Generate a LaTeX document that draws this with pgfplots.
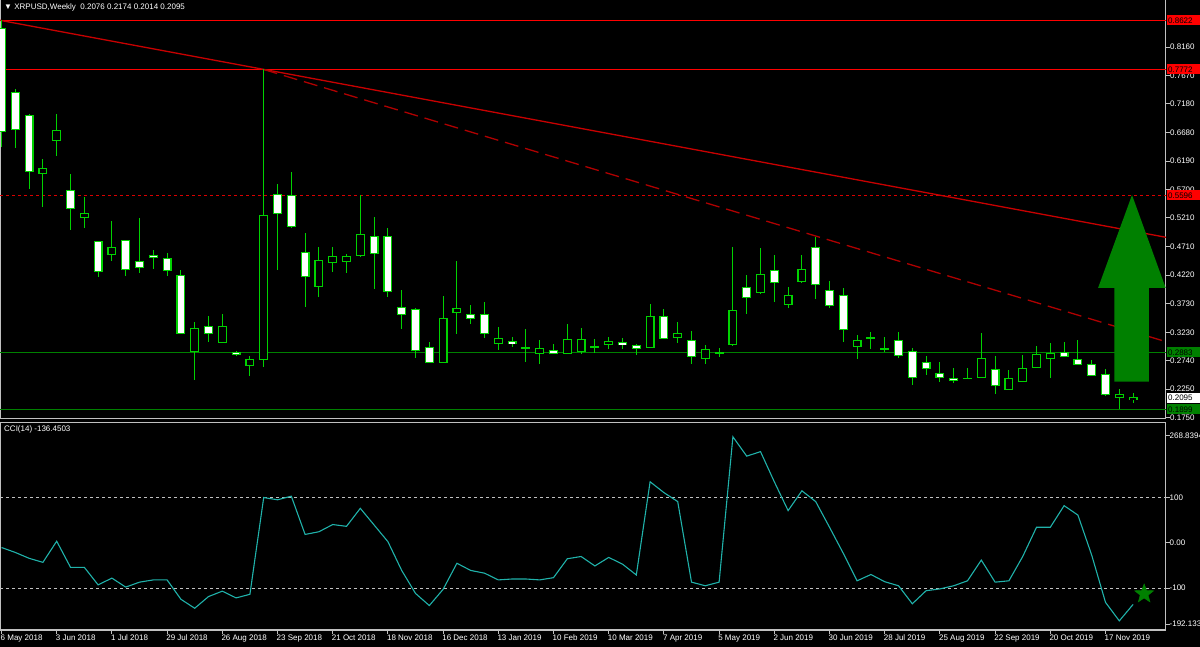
\documentclass[border=0pt]{standalone}
\usepackage{pgfplots}
\pgfplotsset{compat=1.18}
\usepackage{pgfplotstable}
\usepackage{fontspec}
\setmainfont{Liberation Sans}
\definecolor{cndl}{RGB}{0,210,0}
\definecolor{lvlgreen}{RGB}{0,128,0}
\definecolor{lvlred}{RGB}{255,0,0}
\definecolor{trend}{RGB}{200,0,0}
\definecolor{trendd}{RGB}{175,0,0}
\definecolor{ccicol}{RGB}{32,178,170}
\definecolor{framec}{RGB}{192,192,192}
\definecolor{arrowg}{RGB}{0,128,0}
\newcommand\mt{\fontsize{8}{9.6}\selectfont}

\pgfdeclareplotmark{fivestar}{%
  \pgfpathmoveto{\pgfpointpolar{90}{\pgfplotmarksize}}%
  \pgfpathlineto{\pgfpointpolar{126}{0.42\pgfplotmarksize}}%
  \pgfpathlineto{\pgfpointpolar{162}{\pgfplotmarksize}}%
  \pgfpathlineto{\pgfpointpolar{198}{0.42\pgfplotmarksize}}%
  \pgfpathlineto{\pgfpointpolar{234}{\pgfplotmarksize}}%
  \pgfpathlineto{\pgfpointpolar{270}{0.42\pgfplotmarksize}}%
  \pgfpathlineto{\pgfpointpolar{306}{\pgfplotmarksize}}%
  \pgfpathlineto{\pgfpointpolar{342}{0.42\pgfplotmarksize}}%
  \pgfpathlineto{\pgfpointpolar{18}{\pgfplotmarksize}}%
  \pgfpathlineto{\pgfpointpolar{54}{0.42\pgfplotmarksize}}%
  \pgfpathclose\pgfusepathqfillstroke}

\pgfplotstableread{
i o h l c
0 0.8484 0.8622 0.6439 0.6698
1 0.7378 0.7435 0.6410 0.6744
2 0.6974 0.6997 0.5701 0.6018
3 0.5972 0.6220 0.5402 0.6064
4 0.6548 0.6997 0.6283 0.6709
5 0.5678 0.5960 0.4998 0.5373
6 0.5223 0.5574 0.5039 0.5286
7 0.4791 0.4808 0.4192 0.4284
8 0.4572 0.5154 0.4468 0.4699
9 0.4808 0.4825 0.4209 0.4319
10 0.4451 0.5200 0.4249 0.4347
11 0.4561 0.4653 0.4324 0.4526
12 0.4509 0.4601 0.4209 0.4295
13 0.4215 0.4307 0.3200 0.3212
14 0.2896 0.3408 0.2406 0.3299
15 0.3328 0.3512 0.3068 0.3212
16 0.3057 0.3547 0.3040 0.3334
17 0.2878 0.2901 0.2826 0.2850
18 0.2659 0.2821 0.2481 0.2752
19 0.2763 0.7772 0.2625 0.5240
20 0.5615 0.5788 0.4307 0.5286
21 0.5597 0.5995 0.5027 0.5062
22 0.4601 0.4941 0.3673 0.4192
23 0.4019 0.4710 0.3846 0.4468
24 0.4445 0.4710 0.4278 0.4543
25 0.4462 0.4589 0.4249 0.4543
26 0.4555 0.5597 0.4537 0.4912
27 0.4883 0.5229 0.3979 0.4595
28 0.4883 0.5027 0.3846 0.3944
29 0.3656 0.3961 0.3282 0.3541
30 0.3627 0.3644 0.2792 0.2913
31 0.2965 0.3057 0.2706 0.2717
32 0.2717 0.3858 0.2712 0.3472
33 0.3570 0.4463 0.3201 0.3633
34 0.3541 0.3702 0.3374 0.3477
35 0.3541 0.3760 0.3126 0.3212
36 0.3045 0.3322 0.2924 0.3115
37 0.3068 0.3155 0.2982 0.3034
38 0.2965 0.3282 0.2723 0.2965
39 0.2867 0.3097 0.2677 0.2953
40 0.2913 0.3028 0.2850 0.2873
41 0.2867 0.3368 0.2862 0.3097
42 0.2896 0.3310 0.2850 0.3097
43 0.2982 0.3115 0.2878 0.2982
44 0.3022 0.3155 0.2936 0.3068
45 0.3051 0.3126 0.2936 0.3017
46 0.2999 0.3022 0.2838 0.2959
47 0.2970 0.3714 0.2965 0.3500
48 0.3495 0.3627 0.3115 0.3126
49 0.3138 0.3414 0.3051 0.3212
50 0.3080 0.3253 0.2682 0.2809
51 0.2780 0.3011 0.2682 0.2936
52 0.2878 0.2965 0.2809 0.2878
53 0.3022 0.4710 0.2999 0.3604
54 0.4002 0.4221 0.3541 0.3829
55 0.3921 0.4681 0.3886 0.4232
56 0.4290 0.4566 0.3760 0.4094
57 0.3714 0.4019 0.3656 0.3858
58 0.4105 0.4566 0.4088 0.4307
59 0.4693 0.4883 0.3806 0.4059
60 0.3944 0.4117 0.3656 0.3702
61 0.3863 0.3990 0.3068 0.3287
62 0.2982 0.3184 0.2763 0.3086
63 0.3138 0.3230 0.2936 0.3138
64 0.2947 0.3155 0.2884 0.2947
65 0.3080 0.3230 0.2780 0.2827
66 0.2901 0.2953 0.2320 0.2452
67 0.2705 0.2827 0.2492 0.2608
68 0.2521 0.2711 0.2377 0.2446
69 0.2423 0.2608 0.2360 0.2406
70 0.2435 0.2608 0.2423 0.2435
71 0.2452 0.3212 0.2446 0.2780
72 0.2590 0.2827 0.2158 0.2320
73 0.2245 0.2579 0.2240 0.2435
74 0.2377 0.2838 0.2372 0.2608
75 0.2619 0.2993 0.2608 0.2838
76 0.2780 0.3040 0.2446 0.2867
77 0.2878 0.3057 0.2809 0.2815
78 0.2752 0.3097 0.2665 0.2677
79 0.2677 0.2752 0.2481 0.2492
80 0.2504 0.2590 0.2135 0.2164
81 0.2106 0.2250 0.1899 0.2147
82 0.2076 0.2174 0.2014 0.2095
}\ohlc

\pgfplotstableread{
i v
0 -10
1 -21
2 -34
3 -43
4 4
5 -54
6 -54
7 -93
8 -78
9 -98
10 -87
11 -82
12 -82
13 -125
14 -145
15 -119
16 -107
17 -122
18 -114
19 101
20 96
21 104
22 19
23 25
24 41
25 37
26 77
27 40
28 3
29 -61
30 -112
31 -139
32 -103
33 -45
34 -61
35 -67
36 -82
37 -80
38 -80
39 -82
40 -77
41 -35
42 -30
43 -51
44 -32
45 -47
46 -71
47 136
48 112
49 92
50 -87
51 -95
52 -87
53 236
54 193
55 203
56 136
57 72
58 116
59 92
60 35
61 -23
62 -84
63 -70
64 -86
65 -95
66 -135
67 -106
68 -102
69 -95
70 -84
71 -38
72 -87
73 -84
74 -30
75 35
76 35
77 83
78 62
79 -27
80 -132
81 -173
82 -136.45
}\ccidata

\pgfplotsset{
  candle/.style 2 args={draw=none, mark=none, forget plot,
    error bars/.cd, y dir=both, y explicit, error mark=none,
    error bar style={draw=#1, line width=#2, solid}},
}

\begin{document}
\begin{tikzpicture}
\fill[black] (0,0) rectangle (1200pt,-647pt);

\begin{axis}[
  at={(0pt,0pt)}, anchor=north west, scale only axis,
  width=1166pt, height=418pt,
  xmin=-0.109, xmax=84.38, ymin=0.1749, ymax=0.8973,
  clip=false,
  axis line style={draw=framec, line width=1pt},
  xtick=\empty,
  ytick={0.8160,0.7670,0.7180,0.6680,0.6190,0.5700,0.5210,0.4710,0.4220,0.3730,0.3230,0.2740,0.2250,0.1750},
  yticklabels={0.8160,0.7670,0.7180,0.6680,0.6190,0.5700,0.5210,0.4710,0.4220,0.3730,0.3230,0.2740,0.2250,0.1750},
  ytick pos=right, yticklabel pos=right,
  tick align=outside, major tick length=4pt,
  tick style={draw=framec, line width=1pt},
  yticklabel style={text=white, font=\mt, inner sep=1pt, xshift=-1pt},
]
% horizontal levels
\addplot[lvlred, line width=1pt] coordinates {(-0.109,0.8622) (84.38,0.8622)};
\addplot[lvlred, line width=1pt] coordinates {(-0.109,0.7772) (84.38,0.7772)};
\addplot[color=lvlred!85!black, line width=1pt, dash pattern=on 3pt off 3pt] coordinates {(-0.109,0.5596) (84.38,0.5596)};
\addplot[lvlgreen, line width=1pt] coordinates {(-0.109,0.2883) (84.38,0.2883)};
\addplot[lvlgreen, line width=1pt] coordinates {(-0.109,0.1899) (84.38,0.1899)};
% trend lines
\addplot[trend, line width=1.3pt] coordinates {(-0.109,0.8622) (84.38,0.4872)};
\addplot[trendd, line width=1.3pt, dash pattern=on 14pt off 7pt] coordinates {(19,0.7772) (84.38,0.3068)};
% wicks
\addplot[candle={cndl}{1pt}]
  table[x=i, y expr={(\thisrow{h}+\thisrow{l})/2}, y error expr={(\thisrow{h}-\thisrow{l})/2}] {\ohlc};
% body outlines
\addplot[candle={cndl}{9pt}]
  table[x=i, y expr={(\thisrow{o}+\thisrow{c})/2}, y error expr={abs(\thisrow{o}-\thisrow{c})/2+0.0011}] {\ohlc};
% bearish bodies (white)
\addplot[candle={white}{6.5pt}]
  table[x=i, y expr={(\thisrow{o}+\thisrow{c})/2}, y error expr={ifthenelse(\thisrow{o}>\thisrow{c}, max(abs(\thisrow{o}-\thisrow{c})/2-0.0007,0), 0)}] {\ohlc};
% bullish bodies (black)
\addplot[candle={black}{6.5pt}]
  table[x=i, y expr={(\thisrow{o}+\thisrow{c})/2}, y error expr={ifthenelse(\thisrow{c}>\thisrow{o}, max(abs(\thisrow{o}-\thisrow{c})/2-0.0007,0), 0)}] {\ohlc};
% arrow
\addplot[fill=arrowg, draw=none] coordinates {(80.64,0.2376) (80.64,0.3996) (79.46,0.3996) (81.92,0.5603) (84.36,0.3996) (83.15,0.3996) (83.15,0.2376)} --cycle;
% header
\node[anchor=west, text=white, font=\mt, inner sep=0pt] at (rel axis cs:0,1) [xshift=4pt, yshift=-7pt] {▼ XRPUSD,Weekly\ \ 0.2076 0.2174 0.2014 0.2095};
% price boxes
\node[fill=lvlred, text=black, anchor=west, font=\mt, inner sep=1pt, text width=31pt, minimum height=10pt] at (axis cs:84.38,0.8622) [xshift=1pt] {0.8622};
\node[fill=lvlred, text=black, anchor=west, font=\mt, inner sep=1pt, text width=31pt, minimum height=10pt] at (axis cs:84.38,0.7772) [xshift=1pt] {0.7772};
\node[fill=lvlred, text=black, anchor=west, font=\mt, inner sep=1pt, text width=31pt, minimum height=10pt] at (axis cs:84.38,0.5596) [xshift=1pt] {0.5596};
\node[fill=lvlgreen, text=black, anchor=west, font=\mt, inner sep=1pt, text width=31pt, minimum height=10pt] at (axis cs:84.38,0.2883) [xshift=1pt] {0.2883};
\node[fill=white, text=black, anchor=west, font=\mt, inner sep=1pt, text width=31pt, minimum height=10pt] at (axis cs:84.38,0.2095) [xshift=1pt] {0.2095};
\node[fill=lvlgreen, text=black, anchor=west, font=\mt, inner sep=1pt, text width=31pt, minimum height=10pt] at (axis cs:84.38,0.1899) [xshift=1pt] {0.1899};
\end{axis}

\begin{axis}[
  at={(0pt,-422pt)}, anchor=north west, scale only axis,
  width=1166pt, height=208pt,
  xmin=-0.109, xmax=84.38, ymin=-193.3, ymax=268.84,
  clip=false,
  axis line style={draw=framec, line width=1pt},
  xtick={0,4,...,80},
  xticklabels={6 May 2018,3 Jun 2018,1 Jul 2018,29 Jul 2018,26 Aug 2018,23 Sep 2018,21 Oct 2018,18 Nov 2018,16 Dec 2018,13 Jan 2019,10 Feb 2019,10 Mar 2019,7 Apr 2019,5 May 2019,2 Jun 2019,30 Jun 2019,28 Jul 2019,25 Aug 2019,22 Sep 2019,20 Oct 2019,17 Nov 2019},
  xtick pos=bottom, xticklabel pos=bottom,
  ytick={-180,-100,0,100,237.8},
  yticklabels={-192.133,-100,0.00,100,268.8394},
  ytick pos=right, yticklabel pos=right,
  tick align=outside, major tick length=4pt,
  tick style={draw=framec, line width=1pt},
  yticklabel style={text=white, font=\mt, inner sep=1pt, xshift=-1.5pt},
  xticklabel style={text=white, font=\mt, anchor=north west, inner sep=1pt, xshift=-2pt},
]
\addplot[framec, line width=1pt, dash pattern=on 3pt off 3pt] coordinates {(-0.109,100) (84.38,100)};
\addplot[framec, line width=1pt, dash pattern=on 3pt off 3pt] coordinates {(-0.109,-100) (84.38,-100)};
\addplot[ccicol, line width=1.1pt] table[x=i, y=v] {\ccidata};
\addplot[only marks, mark=fivestar, mark size=10pt, fill=arrowg, draw=arrowg] coordinates {(82.8,-113)};
\node[anchor=west, text=white, font=\mt, inner sep=0pt] at (rel axis cs:0,1) [xshift=4pt, yshift=-7pt] {CCI(14) -136.4503};
\end{axis}

\pgfresetboundingbox
\useasboundingbox (0,0) rectangle (1200pt,-647pt);
\end{tikzpicture}
\end{document}
